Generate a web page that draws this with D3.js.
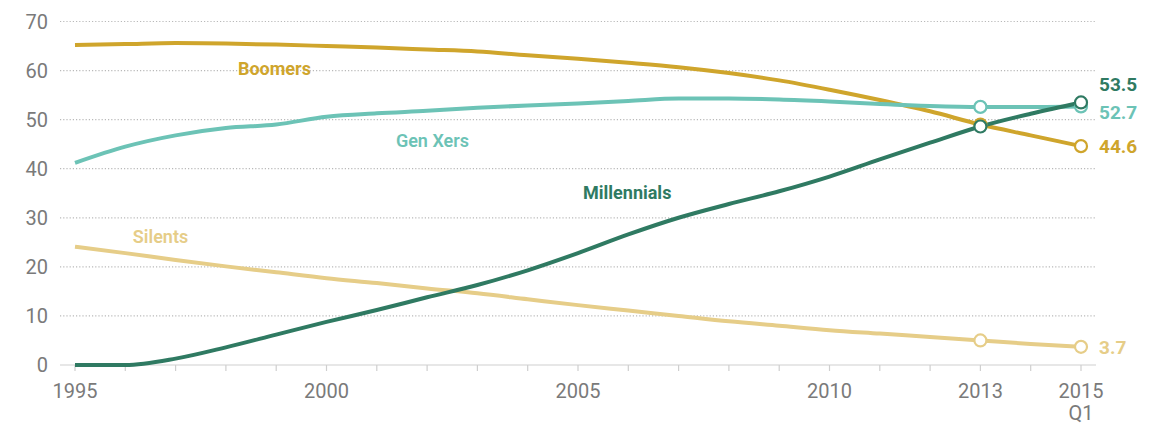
<!DOCTYPE html>
<html>
<head>
<meta charset="utf-8">
<script src="https://cdn.jsdelivr.net/npm/d3@7"></script>
<style>
  body { margin: 0; background: #fff; }
  svg { display: block; font-family: "Roboto", "Liberation Sans", sans-serif; }
</style>
</head>
<body>
<svg id="chart" width="1165" height="425"></svg>
<script>
const years = d3.range(1995, 2016);
const boomers = [65.2, 65.4, 65.6, 65.5, 65.3, 65.0, 64.7, 64.3, 63.9, 63.1, 62.4, 61.6, 60.7, 59.5, 58.0, 56.1, 54.0, 51.7, 49.0, 46.8, 44.6];
const genXers = [41.2, 44.5, 46.8, 48.3, 49.0, 50.6, 51.3, 51.8, 52.4, 52.9, 53.3, 53.8, 54.3, 54.3, 54.1, 53.7, 53.2, 52.8, 52.6, 52.6, 52.7];
const millennials = [0, 0, 1.3, 3.6, 6.2, 8.8, 11.2, 13.8, 16.3, 19.3, 22.8, 26.6, 30.0, 32.8, 35.4, 38.4, 41.9, 45.3, 48.6, 51.2, 53.5];
const silents = [24.1, 22.8, 21.4, 20.1, 18.9, 17.7, 16.7, 15.6, 14.6, 13.4, 12.2, 11.1, 10.0, 8.9, 8.0, 7.1, 6.4, 5.7, 5.0, 4.3, 3.7];
const yTicks = [0, 10, 20, 30, 40, 50, 60, 70];
const xLabels = [1995, 2000, 2005, 2010, 2013, 2015];
const markerYears = [2013, 2015];

const series = [
  { name: 'Silents', values: silents, color: '#e6cd88', label: [1996.15, 26.1], weight: 600, endLabel: '3.7', endY: 3.7 },
  { name: 'Boomers', values: boomers, color: '#cfa52c', label: [1998.24, 60.4], weight: 700, endLabel: '44.6', endY: 44.6 },
  { name: 'Gen Xers', values: genXers, color: '#6cc3b6', label: [2001.38, 45.7], weight: 600, endLabel: '52.7', endY: 51.6 },
  { name: 'Millennials', values: millennials, color: '#2f7a62', label: [2005.1, 35.1], weight: 700, endLabel: '53.5', endY: 57.3 }
];

const svg = d3.select('#chart');

const x = d3.scaleLinear().domain([1995, 2015]).range([75, 1081]);
const y = d3.scaleLinear().domain([0, 70]).range([365, 21.5]);

// gridlines
svg.append('g')
  .selectAll('line')
  .data(yTicks.filter(d => d > 0))
  .join('line')
  .attr('x1', 60)
  .attr('x2', 1096)
  .attr('y1', d => y(d))
  .attr('y2', d => y(d))
  .attr('stroke', '#b9b9b9')
  .attr('stroke-width', 1.2)
  .attr('stroke-dasharray', '1.2,2');

svg.append('line')
  .attr('x1', 60)
  .attr('x2', 1096)
  .attr('y1', y(0))
  .attr('y2', y(0))
  .attr('stroke', '#cfcfcf')
  .attr('stroke-width', 1.2);

// y labels
svg.append('g')
  .selectAll('text')
  .data(yTicks)
  .join('text')
  .attr('x', 48)
  .attr('y', d => y(d))
  .attr('dy', '0.36em')
  .attr('text-anchor', 'end')
  .attr('fill', '#7a7a7a')
  .attr('font-size', '20px')
  .text(d => d);

// x ticks
svg.append('g')
  .attr('transform', `translate(0, ${y(0)})`)
  .selectAll('line')
  .data(years)
  .join('line')
  .attr('x1', d => x(d))
  .attr('x2', d => x(d))
  .attr('y1', 0)
  .attr('y2', 6)
  .attr('stroke', '#cfcfcf')
  .attr('stroke-width', 1.2);

svg.append('g')
  .selectAll('text')
  .data(xLabels)
  .join('text')
  .attr('x', d => x(d))
  .attr('y', 391)
  .attr('dy', '0.36em')
  .attr('text-anchor', 'middle')
  .attr('fill', '#7a7a7a')
  .attr('font-size', '20px')
  .text(d => d);

svg.append('text')
  .attr('x', x(2015))
  .attr('y', 413)
  .attr('dy', '0.36em')
  .attr('text-anchor', 'middle')
  .attr('fill', '#7a7a7a')
  .attr('font-size', '20px')
  .text('Q1');

const line = d3.line()
  .x((d, i) => x(years[i]))
  .y(d => y(d))
  .curve(d3.curveMonotoneX);

svg.append('g')
  .selectAll('path')
  .data(series)
  .join('path')
  .attr('d', d => line(d.values))
  .attr('fill', 'none')
  .attr('stroke', d => d.color)
  .attr('stroke-width', 4)
  .attr('stroke-linejoin', 'round');

// markers at 2013 and 2015 Q1
series.forEach(s => {
  svg.append('g')
    .selectAll('circle')
    .data(markerYears)
    .join('circle')
    .attr('cx', d => x(d))
    .attr('cy', d => y(s.values[years.indexOf(d)]))
    .attr('r', 6)
    .attr('fill', '#fff')
    .attr('stroke', s.color)
    .attr('stroke-width', 2.2);
});

// series names
svg.append('g')
  .selectAll('text')
  .data(series)
  .join('text')
  .attr('x', d => x(d.label[0]))
  .attr('y', d => y(d.label[1]))
  .attr('dy', '0.36em')
  .attr('fill', d => d.color)
  .attr('font-size', '18px')
  .attr('font-weight', d => d.weight)
  .text(d => d.name);

// end values
svg.append('g')
  .selectAll('text')
  .data(series)
  .join('text')
  .attr('x', 1099)
  .attr('y', d => y(d.endY))
  .attr('dy', '0.36em')
  .attr('fill', d => d.color)
  .attr('font-size', '19px')
  .attr('font-weight', 'bold')
  .text(d => d.endLabel);
</script>
</body>
</html>
